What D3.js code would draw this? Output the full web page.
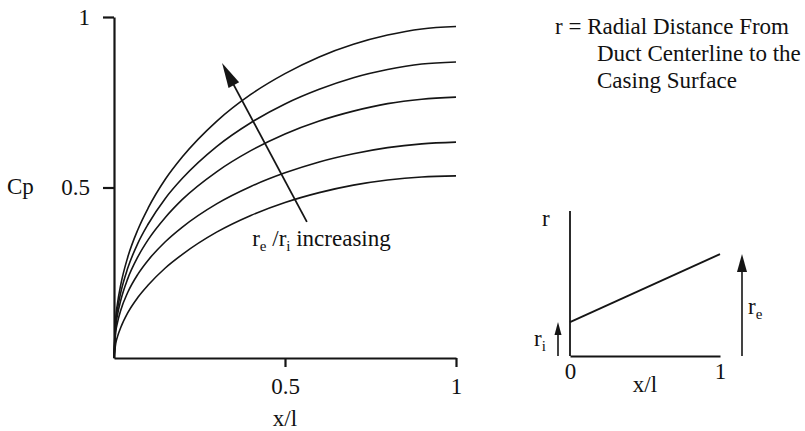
<!DOCTYPE html>
<html>
<head>
<meta charset="utf-8">
<script src="https://cdn.jsdelivr.net/npm/d3@7"></script>
<style>
  html, body { margin: 0; padding: 0; background: #fff; }
  svg { display: block; }
  text { font-family: "Liberation Serif", "Times New Roman", serif; fill: #111; }
</style>
</head>
<body>
<svg id="chart" width="805" height="431"></svg>
<script>
// Pressure recovery coefficient Cp along the duct, one curve per area ratio re/ri
const xPositions = [0, 0.005, 0.01, 0.02, 0.04, 0.07, 0.1, 0.15, 0.2, 0.3, 0.4, 0.5, 0.6, 0.7, 0.8, 0.9, 1];
const cpCurve1 = [0, 0.116, 0.159, 0.216, 0.295, 0.377, 0.440, 0.524, 0.590, 0.694, 0.773, 0.834, 0.883, 0.920, 0.947, 0.965, 0.972];
const cpCurve2 = [0, 0.104, 0.142, 0.193, 0.263, 0.337, 0.393, 0.468, 0.527, 0.620, 0.690, 0.745, 0.788, 0.822, 0.846, 0.862, 0.868];
const cpCurve3 = [0, 0.091, 0.125, 0.170, 0.232, 0.297, 0.347, 0.412, 0.465, 0.546, 0.608, 0.657, 0.695, 0.724, 0.746, 0.759, 0.765];
const cpCurve4 = [0, 0.076, 0.103, 0.141, 0.192, 0.246, 0.287, 0.341, 0.384, 0.452, 0.503, 0.543, 0.575, 0.599, 0.617, 0.628, 0.633];
const cpCurve5 = [0, 0.042, 0.062, 0.090, 0.132, 0.178, 0.214, 0.264, 0.304, 0.369, 0.418, 0.456, 0.485, 0.507, 0.522, 0.531, 0.534];
const cpSeries = [cpCurve1, cpCurve2, cpCurve3, cpCurve4, cpCurve5];

const xTickValues = [0.5, 1];
const xTickLabels = ["0.5", "1"];
const yTickValues = [0.5, 1];
const yTickLabels = ["0.5", "1"];

// trend arrow across the curves, in data units: [x, Cp]
const arrowTail = [0.564, 0.399];
const arrowTip = [0.316, 0.865];
const arrowLabelAt = [0.404, 0.328];

// inset: casing radius r against x/l
const insetX = [0, 1];
const insetR = [0.234, 0.703];   // r_i at inlet, r_e at exit
const insetTickValues = [0, 1];
const insetTickLabels = ["0", "1"];

const noteLines = ["r = Radial Distance From", "Duct Centerline to the", "Casing Surface"];

const svg = d3.select("#chart");
const ink = "#151515";
const fs = 23;

// ---------- main plot ----------
const x = d3.scaleLinear().domain([0, 1]).range([114, 456]);
const y = d3.scaleLinear().domain([0, 1]).range([358, 17]);

const yAxis = d3.axisLeft(y)
  .tickValues(yTickValues)
  .tickFormat((d, i) => yTickLabels[i])
  .tickSizeInner(11).tickSizeOuter(0).tickPadding(13);
const xAxis = d3.axisBottom(x)
  .tickValues(xTickValues)
  .tickFormat((d, i) => xTickLabels[i])
  .tickSizeInner(9).tickSizeOuter(0).tickPadding(11);

function styleAxis(g) {
  g.select(".domain").attr("stroke", ink).attr("stroke-width", 2.2);
  g.selectAll(".tick line").attr("stroke", ink).attr("stroke-width", 2.2);
  g.selectAll(".tick text")
    .attr("font-family", '"Liberation Serif", serif')
    .attr("font-size", fs).attr("fill", ink);
}

svg.append("g").attr("transform", `translate(${x(0)},0)`).call(yAxis).call(styleAxis);
svg.append("g").attr("transform", `translate(0,${y(0)})`).call(xAxis).call(styleAxis);

const line = d3.line()
  .x(d => x(d[0]))
  .y(d => y(d[1]))
  .curve(d3.curveMonotoneX);

svg.append("g")
  .selectAll("path")
  .data(cpSeries)
  .join("path")
  .attr("d", s => line(s.map((v, i) => [xPositions[i], v])))
  .attr("fill", "none")
  .attr("stroke", ink)
  .attr("stroke-width", 1.6);

// axis titles
svg.append("text").attr("x", 7).attr("y", 194).attr("font-size", fs).text("Cp");
svg.append("text").attr("x", x(0.5)).attr("y", 426).attr("text-anchor", "middle")
  .attr("font-size", fs).text("x/l");

// arrow with filled head
function drawArrow(x1, y1, x2, y2, headLen, headHalf, width) {
  const dx = x2 - x1, dy = y2 - y1;
  const len = Math.hypot(dx, dy);
  const ux = dx / len, uy = dy / len;
  const bx = x2 - ux * headLen, by = y2 - uy * headLen;
  svg.append("line")
    .attr("x1", x1).attr("y1", y1).attr("x2", bx + ux * 2).attr("y2", by + uy * 2)
    .attr("stroke", ink).attr("stroke-width", width);
  svg.append("path")
    .attr("d", `M${x2},${y2}L${bx - uy * headHalf},${by + ux * headHalf}L${bx + uy * headHalf},${by - ux * headHalf}Z`)
    .attr("fill", ink);
}

drawArrow(x(arrowTail[0]), y(arrowTail[1]), x(arrowTip[0]), y(arrowTip[1]), 25, 6, 1.8);

const lbl = svg.append("text")
  .attr("x", x(arrowLabelAt[0])).attr("y", y(arrowLabelAt[1])).attr("font-size", fs);
lbl.append("tspan").text("r");
lbl.append("tspan").attr("font-size", 15).attr("dy", 5).text("e");
lbl.append("tspan").attr("dy", -5).text(" /r");
lbl.append("tspan").attr("font-size", 15).attr("dy", 5).text("i");
lbl.append("tspan").attr("dy", -5).text(" increasing");

// ---------- note ----------
const note = svg.append("text").attr("font-size", fs);
noteLines.forEach((t, i) => {
  note.append("tspan")
    .attr("x", i === 0 ? 555 : 597)
    .attr("y", 34 + i * 27)
    .text(t);
});

// ---------- inset ----------
const ix = d3.scaleLinear().domain([0, 1]).range([570, 720]);
const iy = d3.scaleLinear().domain([0, 1]).range([356, 211]);

const insetAxisX = d3.axisBottom(ix)
  .tickValues(insetTickValues)
  .tickFormat((d, i) => insetTickLabels[i])
  .tickSizeInner(0).tickSizeOuter(0).tickPadding(7);
const gx = svg.append("g").attr("transform", `translate(0,${iy(0)})`).call(insetAxisX);
gx.select(".domain").attr("stroke", ink).attr("stroke-width", 2);
gx.selectAll(".tick text").attr("font-family", '"Liberation Serif", serif')
  .attr("font-size", fs).attr("fill", ink);

svg.append("line")
  .attr("x1", ix(0)).attr("x2", ix(0)).attr("y1", iy(0)).attr("y2", iy(1))
  .attr("stroke", ink).attr("stroke-width", 1.8);

svg.append("line")
  .attr("x1", ix(insetX[0])).attr("y1", iy(insetR[0]))
  .attr("x2", ix(insetX[1])).attr("y2", iy(insetR[1]))
  .attr("stroke", ink).attr("stroke-width", 1.8);

svg.append("text").attr("x", 542).attr("y", 226).attr("font-size", fs).text("r");
svg.append("text").attr("x", ix(0.5)).attr("y", 392).attr("text-anchor", "middle")
  .attr("font-size", fs).text("x/l");

// r_i and r_e indicators
drawArrow(ix(0) - 12, iy(0), ix(0) - 12, iy(insetR[0]), 13, 3.5, 1.6);
drawArrow(ix(1) + 22, iy(0), ix(1) + 22, iy(insetR[1]), 18, 5, 1.6);

const ri = svg.append("text").attr("x", 534).attr("y", 346).attr("font-size", fs);
ri.append("tspan").text("r");
ri.append("tspan").attr("font-size", 15).attr("dy", 5).text("i");

const re = svg.append("text").attr("x", 748).attr("y", 314).attr("font-size", fs);
re.append("tspan").text("r");
re.append("tspan").attr("font-size", 15).attr("dy", 5).text("e");
</script>
</body>
</html>
